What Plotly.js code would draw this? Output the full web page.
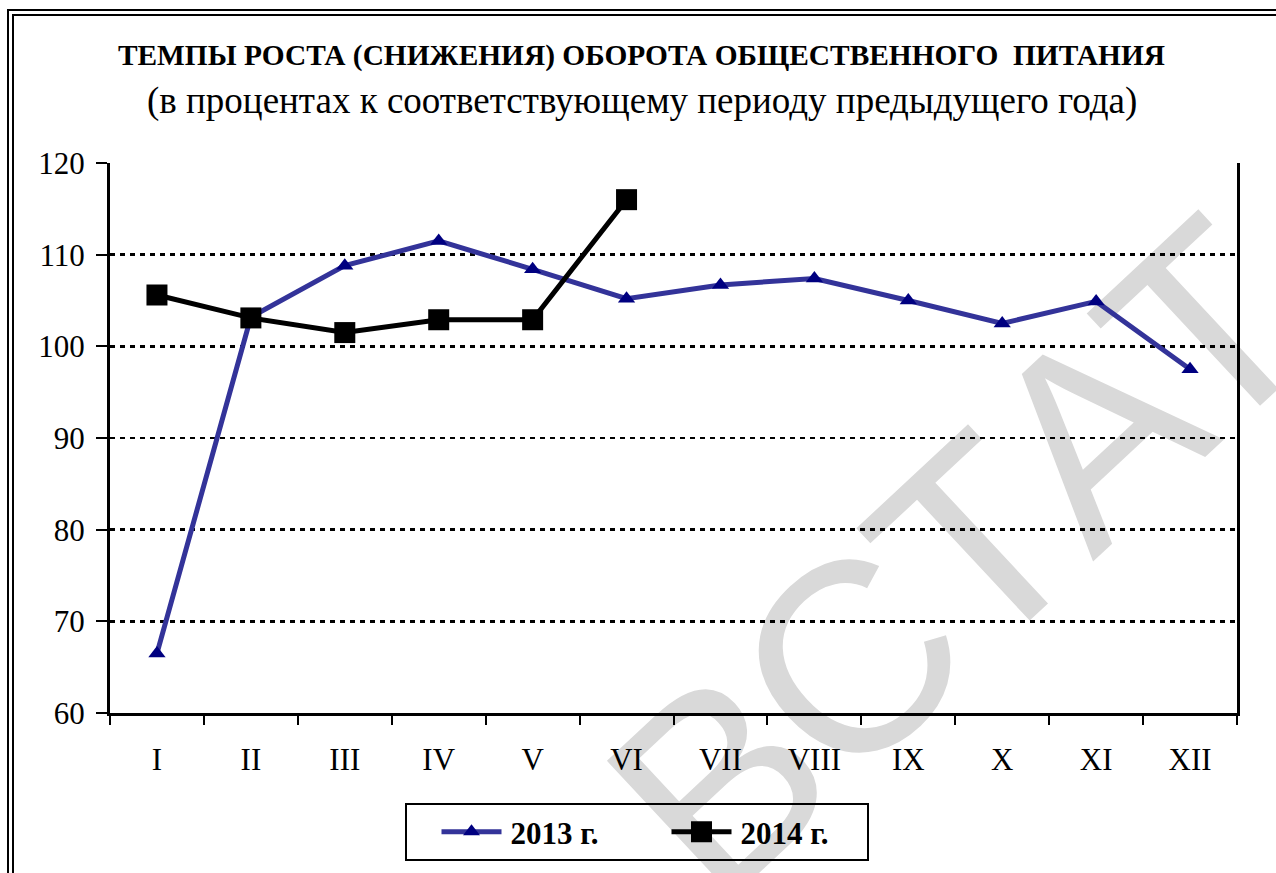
<!DOCTYPE html>
<html>
<head>
<meta charset="utf-8">
<script src="https://cdn.plot.ly/plotly-3.0.1.min.js"></script>
<style>
  html, body { margin: 0; padding: 0; background: #ffffff; overflow: hidden; }
  #chart { position: absolute; left: 0; top: 0; width: 1276px; height: 873px; }
  #frame { position: absolute; left: 7px; top: 9px; width: 1400px; height: 1000px;
           border-left: 7px double #000; border-top: 7px double #000; pointer-events: none; }
</style>
</head>
<body>
<div id="chart"></div>
<div id="frame"></div>
<script>
// ---- data ----
const months = ['I','II','III','IV','V','VI','VII','VIII','IX','X','XI','XII'];
const values2013 = [66.5, 103.2, 108.8, 111.5, 108.4, 105.2, 106.7, 107.4, 105.0, 102.5, 104.9, 97.5];
const months2014 = ['I','II','III','IV','V','VI'];
const values2014 = [105.6, 103.1, 101.5, 102.9, 102.9, 116.0];
const seriesNames = ['2013 г.', '2014 г.'];
const titleText = 'ТЕМПЫ РОСТА (СНИЖЕНИЯ) ОБОРОТА ОБЩЕСТВЕННОГО \u00a0ПИТАНИЯ';
const subtitleText = '(в процентах к соответствующему периоду предыдущего года)';
const watermarkText = 'ВСТАТ';

const serif = 'Liberation Serif';

const traces = [
  {
    x: months, y: values2013, name: seriesNames[0], type: 'scatter', mode: 'lines+markers',
    line: { color: '#333399', width: 5 },
    marker: { symbol: 'triangle-up', size: 15, color: '#000080' }
  },
  {
    x: months2014, y: values2014, name: seriesNames[1], type: 'scatter', mode: 'lines+markers',
    line: { color: '#000000', width: 5 },
    marker: { symbol: 'square', size: 21, color: '#000000' }
  }
];

const wmX = 942, wmY = 539;

const layout = {
  width: 1276, height: 873,
  margin: { l: 110, r: 39, t: 163, b: 160, pad: 0 },
  paper_bgcolor: 'rgba(0,0,0,0)',
  plot_bgcolor: 'rgba(0,0,0,0)',
  font: { family: serif, color: '#000' },
  showlegend: true,
  title: {
    text: titleText,
    font: { family: serif, size: 29.4, color: '#000', weight: 'bold' },
    xref: 'container', x: 0.5027, xanchor: 'center',
    yref: 'container', y: 1 - 55 / 873, yanchor: 'middle'
  },
  annotations: [
    {
      text: subtitleText, showarrow: false,
      xref: 'paper', yref: 'paper', x: (641.5 - 110) / 1127, y: (713 - 101) / 550,
      xanchor: 'center', yanchor: 'middle',
      font: { family: serif, size: 37, color: '#000' }
    }
  ],
  xaxis: {
    type: 'category', categoryorder: 'array', categoryarray: months,
    range: [-0.5, 11.5],
    showline: true, linecolor: '#000', linewidth: 3,
    ticks: 'outside', tickson: 'boundaries', ticklen: 9, tickwidth: 2, tickcolor: '#000',
    showgrid: false, zeroline: false,
    tickfont: { family: serif, size: 31, color: '#000' },
    ticklabelstandoff: 17
  },
  yaxis: {
    range: [60, 120], dtick: 10, tick0: 60,
    showline: true, linecolor: '#000', linewidth: 3, mirror: true,
    ticks: 'outside', ticklen: 11, tickwidth: 2, tickcolor: '#000',
    showgrid: true, gridcolor: '#000', gridwidth: 2.5, griddash: '5px,5px',
    zeroline: false,
    tickfont: { family: serif, size: 31, color: '#000' },
    ticklabelstandoff: 5
  },
  legend: {
    orientation: 'h',
    x: (636.5 - 110) / 1127, xanchor: 'center',
    y: (713 - 803) / 550, yanchor: 'top',
    bordercolor: '#000', borderwidth: 2, bgcolor: 'rgba(0,0,0,0)',
    font: { family: serif, size: 31, color: '#000', weight: 'bold' },
    itemwidth: 94,
    entrywidth: 121
  },
  shapes: [
    {
      type: 'rect', layer: 'below', xref: 'paper', yref: 'paper',
      x0: (wmX - 110) / 1127 - 0.01, x1: (wmX - 110) / 1127 + 0.01,
      y0: (713 - wmY) / 550 - 0.01, y1: (713 - wmY) / 550 + 0.01,
      line: { width: 0 }, fillcolor: 'rgba(0,0,0,0)',
      label: {
        text: watermarkText, textangle: -43, textposition: 'middle center',
        xanchor: 'center', yanchor: 'middle',
        font: { family: 'Liberation Sans', size: 270, color: '#d9d9d9' }
      }
    }
  ]
};

// legend samples: 60 px line with the marker (at its chart size) in the middle
const legendMarkerWidths = [17, 21];
function widenLegendSamples(gd) {
  gd.querySelectorAll('.legend g.traces').forEach(function (g, i) {
    const gx = g.getCTM().e;
    const line = g.querySelector('path.js-line');
    if (line) {
      const off = line.parentNode.getCTM().e - gx;
      line.setAttribute('d', 'M' + (35 - off) + ',0h60');
    }
    g.querySelectorAll('.legendpoints path.scatterpts').forEach(function (p) {
      const offP = p.parentNode.getCTM().e - gx;
      let k = 1;
      try {
        const w = p.getBBox().width;
        if (w > 0) k = legendMarkerWidths[i] / w;
      } catch (e) { k = 1; }
      p.setAttribute('transform', 'translate(' + (65 - offP) + ',0) scale(' + k.toFixed(3) + ')');
    });
  });
}

Plotly.newPlot('chart', traces, layout, { displayModeBar: false, staticPlot: true })
  .then(function (gd) { widenLegendSamples(gd); });
</script>
</body>
</html>
